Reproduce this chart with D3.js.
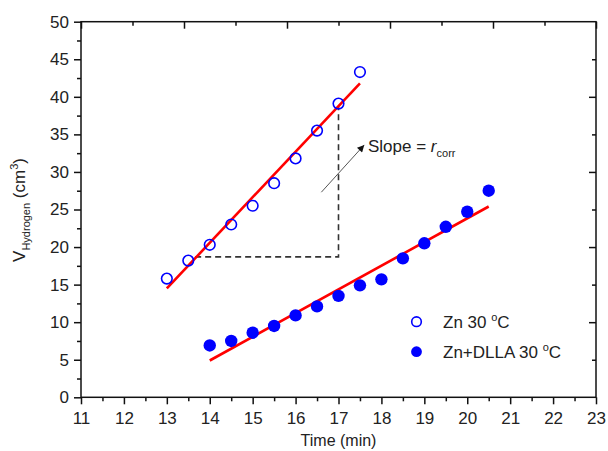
<!DOCTYPE html>
<html>
<head>
<meta charset="utf-8">
<script src="https://cdn.jsdelivr.net/npm/d3@7"></script>
<style>
  body { margin: 0; background: #fff; }
  svg text { font-family: Arial, "Liberation Sans", sans-serif; fill: #222; }
</style>
</head>
<body>
<div id="chart"></div>
<script>
const w = 608;
const h = 451;

// data
const timeZn = [13, 13.5, 14, 14.5, 15, 15.5, 16, 16.5, 17, 17.5];
const volZn = [15.8, 18.2, 20.3, 23.0, 25.5, 28.5, 31.8, 35.5, 39.1, 43.3];
const timeDlla = [14, 14.5, 15, 15.5, 16, 16.5, 17, 17.5, 18, 18.5, 19, 19.5, 20, 20.5];
const volDlla = [6.9, 7.5, 8.6, 9.5, 10.9, 12.1, 13.5, 14.9, 15.7, 18.5, 20.5, 22.7, 24.7, 27.5];
const fitZn = [[13, 14.5], [17.5, 41.8]];
const fitDlla = [[14, 4.9], [20.5, 25.4]];
const slopeGuide = [[13.66, 18.7], [17, 18.7], [17, 38.7]];
const arrowPts = [[16.6, 27.3], [17.6, 33.6]];
const xTicks = d3.range(11, 24);
const yTicks = d3.range(0, 51, 5);

const svg = d3.select("#chart").append("svg")
  .attr("width", w).attr("height", h);

const x = d3.scaleLinear().domain([11, 23]).range([81, 596]);
const y = d3.scaleLinear().domain([0, 50]).range([397.3, 21.7]);

svg.append("defs").append("marker")
  .attr("id", "head")
  .attr("viewBox", "0 0 10 10")
  .attr("refX", 10).attr("refY", 5)
  .attr("markerWidth", 9).attr("markerHeight", 7)
  .attr("markerUnits", "userSpaceOnUse")
  .attr("orient", "auto")
  .append("path").attr("d", "M0,0 L10,5 L0,10 Z").attr("fill", "#111");

function styleAxis(g) {
  g.select(".domain").remove();
  g.selectAll("line").attr("stroke", "#111").attr("stroke-width", 1.5);
  g.selectAll("text").style("font-size", "17px").attr("fill", "#222");
}

// bottom axis
svg.append("g").attr("transform", `translate(0,${y(0)})`)
  .call(d3.axisBottom(x).tickValues(xTicks).tickSize(7).tickPadding(8).tickFormat(d3.format("d")))
  .call(styleAxis);
svg.append("g").attr("transform", `translate(0,${y(0)})`)
  .call(d3.axisBottom(x).tickValues(xTicks.slice(0, -1).map(d => d + 0.5)).tickSize(4).tickFormat(""))
  .call(styleAxis);

// left axis
svg.append("g").attr("transform", `translate(${x(11)},0)`)
  .call(d3.axisLeft(y).tickValues(yTicks).tickSize(7).tickPadding(5).tickFormat(d3.format("d")))
  .call(styleAxis);
svg.append("g").attr("transform", `translate(${x(11)},0)`)
  .call(d3.axisLeft(y).tickValues(yTicks.slice(0, -1).map(d => d + 2.5)).tickSize(4).tickFormat(""))
  .call(styleAxis);

// top axis: 10 intervals, inward ticks
const topVals = d3.range(0, 11).map(i => 11 + i * 1.2);
svg.append("g").attr("transform", `translate(0,${y(50)})`)
  .call(d3.axisBottom(x).tickValues(topVals.filter((d, i) => i % 2 === 0)).tickSize(7).tickFormat(""))
  .call(styleAxis);
svg.append("g").attr("transform", `translate(0,${y(50)})`)
  .call(d3.axisBottom(x).tickValues(topVals.filter((d, i) => i % 2 === 1)).tickSize(4).tickFormat(""))
  .call(styleAxis);

// right axis, inward ticks
svg.append("g").attr("transform", `translate(${x(23)},0)`)
  .call(d3.axisLeft(y).tickValues([10, 20, 30, 40]).tickSize(7).tickFormat(""))
  .call(styleAxis);
svg.append("g").attr("transform", `translate(${x(23)},0)`)
  .call(d3.axisLeft(y).tickValues([5, 15, 25, 35, 45]).tickSize(4).tickFormat(""))
  .call(styleAxis);

// frame
svg.append("rect")
  .attr("x", x(11)).attr("y", y(50))
  .attr("width", x(23) - x(11)).attr("height", y(0) - y(50))
  .attr("fill", "none").attr("stroke", "#111").attr("stroke-width", 1.5);

const line = d3.line().x(d => x(d[0])).y(d => y(d[1]));

// slope triangle
svg.append("path").attr("d", line(slopeGuide))
  .attr("fill", "none").attr("stroke", "#333").attr("stroke-width", 1.6)
  .attr("stroke-dasharray", "6,4");

// arrow
svg.append("path").attr("d", line(arrowPts))
  .attr("stroke", "#555").attr("stroke-width", 1).attr("marker-end", "url(#head)");

// fit lines
[fitZn, fitDlla].forEach(f => {
  svg.append("path").attr("d", line(f))
    .attr("fill", "none").attr("stroke", "#ff0000").attr("stroke-width", 2.6);
});

// Zn: open circles
svg.append("g").selectAll("circle")
  .data(timeZn.map((t, i) => [t, volZn[i]]))
  .join("circle")
  .attr("cx", d => x(d[0])).attr("cy", d => y(d[1])).attr("r", 5.3)
  .attr("fill", "none").attr("stroke", "#0000ff").attr("stroke-width", 1.6);

// Zn+DLLA: filled circles
svg.append("g").selectAll("circle")
  .data(timeDlla.map((t, i) => [t, volDlla[i]]))
  .join("circle")
  .attr("cx", d => x(d[0])).attr("cy", d => y(d[1])).attr("r", 6.2)
  .attr("fill", "#0000ff");

// slope label
const slope = svg.append("text").attr("x", 368).attr("y", 152).style("font-size", "17px");
slope.append("tspan").text("Slope = ");
slope.append("tspan").style("font-style", "italic").text("r");
slope.append("tspan").attr("dy", 5).style("font-size", "11px").text("corr");

// legend
const legend = [
  {label: "Zn 30 ", open: true, cy: 321.7},
  {label: "Zn+DLLA 30 ", open: false, cy: 351.7}
];
legend.forEach(l => {
  svg.append("circle").attr("cx", 416.5).attr("cy", l.cy).attr("r", l.open ? 4.8 : 5.4)
    .attr("fill", l.open ? "none" : "#0000ff")
    .attr("stroke", l.open ? "#0000ff" : "none").attr("stroke-width", 1.6);
  const t = svg.append("text").attr("x", 443).attr("y", l.cy + 6).style("font-size", "17px");
  t.append("tspan").text(l.label);
  t.append("tspan").attr("dy", -7).style("font-size", "11px").text("o");
  t.append("tspan").attr("dy", 7).text("C");
});

// axis titles
svg.append("text").attr("x", x(17)).attr("y", 446)
  .attr("text-anchor", "middle").style("font-size", "16px").text("Time (min)");

const yt = svg.append("text")
  .attr("transform", `translate(25,210) rotate(-90)`)
  .attr("text-anchor", "middle").style("font-size", "17px");
yt.append("tspan").text("V");
yt.append("tspan").attr("dy", 5).style("font-size", "11px").text("Hydrogen");
yt.append("tspan").attr("dy", -5).text(" (cm");
yt.append("tspan").attr("dy", -7).style("font-size", "11px").text("3");
yt.append("tspan").attr("dy", 7).text(")");
</script>
</body>
</html>
